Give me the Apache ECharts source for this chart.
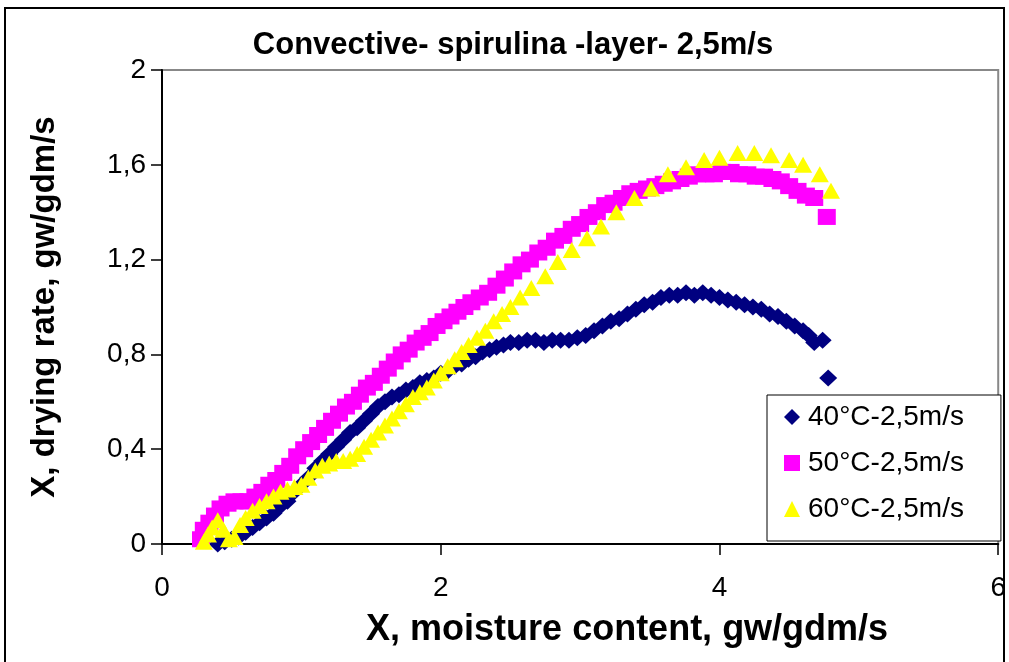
<!DOCTYPE html>
<html>
<head>
<meta charset="utf-8">
<script src="https://cdn.jsdelivr.net/npm/echarts@6/dist/echarts.min.js"></script>
<style>
  html, body { margin: 0; padding: 0; background: #fff; }
  #main { width: 1009px; height: 662px; }
</style>
</head>
<body>
<div id="main"></div>
<script>
// series names
var seriesNames = ['40°C-2,5m/s', '50°C-2,5m/s', '60°C-2,5m/s'];

// [moisture content, drying rate]
var data40 = [
  [0.40,0.00],[0.45,0.01],[0.50,0.02],[0.55,0.03],[0.60,0.05],[0.65,0.07],[0.70,0.09],[0.75,0.11],
  [0.80,0.13],[0.85,0.16],[0.90,0.18],[0.95,0.22],[1.00,0.25],[1.05,0.28],[1.10,0.32],[1.15,0.35],
  [1.20,0.38],[1.25,0.41],[1.30,0.44],[1.35,0.47],[1.40,0.49],[1.45,0.52],[1.50,0.55],[1.55,0.58],
  [1.60,0.60],[1.65,0.62],[1.70,0.63],[1.75,0.65],[1.80,0.66],[1.85,0.68],[1.90,0.69],[1.95,0.70],
  [2.00,0.72],[2.05,0.73],[2.10,0.75],[2.15,0.76],[2.20,0.78],[2.25,0.79],[2.30,0.81],[2.35,0.82],
  [2.40,0.83],[2.45,0.84],[2.50,0.85],[2.56,0.85],[2.62,0.86],[2.68,0.86],[2.74,0.85],[2.80,0.86],
  [2.86,0.86],[2.92,0.86],[2.98,0.87],[3.04,0.88],[3.10,0.90],[3.16,0.92],[3.22,0.94],[3.28,0.95],
  [3.34,0.97],[3.40,0.99],[3.46,1.01],[3.52,1.02],[3.58,1.04],[3.64,1.05],[3.70,1.05],[3.76,1.06],
  [3.82,1.05],[3.88,1.06],[3.94,1.05],[4.00,1.04],[4.06,1.03],[4.12,1.02],[4.18,1.01],[4.24,1.00],
  [4.30,0.99],[4.36,0.97],[4.42,0.96],[4.48,0.94],[4.54,0.92],[4.60,0.90],[4.64,0.88],[4.68,0.85],
  [4.74,0.86],[4.78,0.70]
];

var data50 = [
  [0.28,0.02],[0.30,0.06],[0.34,0.09],[0.38,0.12],[0.42,0.15],[0.47,0.17],[0.52,0.18],[0.57,0.18],
  [0.62,0.18],[0.67,0.20],[0.72,0.22],[0.77,0.25],[0.82,0.27],[0.87,0.30],[0.92,0.33],[0.97,0.37],
  [1.02,0.40],[1.07,0.43],[1.12,0.46],[1.17,0.49],[1.22,0.52],[1.27,0.55],[1.32,0.58],[1.37,0.60],
  [1.42,0.63],[1.47,0.66],[1.52,0.68],[1.57,0.71],[1.62,0.74],[1.67,0.77],[1.72,0.80],[1.77,0.82],
  [1.82,0.85],[1.87,0.87],[1.92,0.89],[1.97,0.92],[2.02,0.94],[2.07,0.96],[2.12,0.98],[2.17,1.00],
  [2.22,1.02],[2.28,1.04],[2.34,1.06],[2.40,1.09],[2.46,1.12],[2.52,1.15],[2.58,1.18],[2.64,1.20],
  [2.70,1.23],[2.76,1.25],[2.82,1.28],[2.88,1.30],[2.94,1.33],[3.00,1.35],[3.06,1.38],[3.12,1.40],
  [3.18,1.43],[3.24,1.44],[3.30,1.46],[3.36,1.48],[3.42,1.49],[3.48,1.50],[3.54,1.51],[3.60,1.52],
  [3.66,1.53],[3.72,1.54],[3.78,1.55],[3.84,1.56],[3.90,1.56],[3.96,1.56],[4.02,1.57],[4.08,1.57],
  [4.14,1.56],[4.20,1.56],[4.26,1.55],[4.32,1.55],[4.38,1.54],[4.44,1.53],[4.50,1.51],[4.56,1.49],
  [4.62,1.47],[4.68,1.46],[4.77,1.38]
];

var data60 = [
  [0.30,0.01],[0.33,0.04],[0.36,0.07],[0.40,0.10],[0.44,0.06],[0.48,0.02],[0.52,0.03],[0.56,0.08],
  [0.60,0.11],[0.65,0.14],[0.70,0.16],[0.75,0.18],[0.80,0.20],[0.85,0.22],[0.90,0.23],[0.95,0.24],
  [1.00,0.25],[1.05,0.28],[1.10,0.31],[1.15,0.33],[1.20,0.34],[1.25,0.35],[1.30,0.35],[1.35,0.36],
  [1.40,0.38],[1.45,0.41],[1.50,0.44],[1.55,0.47],[1.60,0.50],[1.65,0.53],[1.70,0.56],[1.75,0.59],
  [1.80,0.62],[1.85,0.64],[1.90,0.66],[1.95,0.69],[2.00,0.72],[2.05,0.75],[2.10,0.78],[2.15,0.81],
  [2.20,0.84],[2.26,0.87],[2.32,0.90],[2.38,0.94],[2.44,0.97],[2.50,1.00],[2.57,1.04],[2.65,1.08],
  [2.75,1.13],[2.84,1.19],[2.94,1.24],[3.05,1.29],[3.15,1.34],[3.26,1.40],[3.39,1.46],[3.51,1.50],
  [3.63,1.56],[3.76,1.59],[3.89,1.62],[4.00,1.63],[4.13,1.65],[4.25,1.65],[4.37,1.64],[4.50,1.62],
  [4.60,1.60],[4.72,1.56],[4.80,1.49]
];

var font = '"Liberation Sans", Arial, sans-serif';

var chart = echarts.init(document.getElementById('main'));

var option = {
  backgroundColor: '#ffffff',
  animation: false,
  title: {
    text: 'Convective- spirulina -layer- 2,5m/s',
    left: 508,
    textAlign: 'center',
    top: 25,
    textStyle: { fontFamily: font, fontSize: 31, fontWeight: 'bold', color: '#000' }
  },
  legend: {
    orient: 'vertical',
    left: 767,
    top: 395,
    padding: [8, 37, 18, 17],
    itemGap: 18,
    itemWidth: 16,
    itemHeight: 16,
    backgroundColor: '#fff',
    borderColor: '#000',
    borderWidth: 1,
    data: [
      { name: seriesNames[0], icon: 'diamond' },
      { name: seriesNames[1], icon: 'rect' },
      { name: seriesNames[2], icon: 'triangle' }
    ],
    textStyle: { fontFamily: font, fontSize: 28, lineHeight: 28, color: '#000', padding: [0, 0, 0, 3] }
  },
  grid: {
    left: 162,
    right: 10,
    top: 70,
    bottom: 118,
    show: true,
    backgroundColor: '#fff',
    borderColor: '#888',
    borderWidth: 2
  },
  xAxis: {
    type: 'value',
    min: 0,
    max: 6,
    interval: 2,
    name: 'X, moisture content, gw/gdm/s',
    nameLocation: 'middle',
    nameGap: 68,
    nameTextStyle: { fontFamily: font, fontSize: 36, fontWeight: 'bold', color: '#000', padding: [0, 0, 0, 94] },
    axisLine: { show: true, lineStyle: { color: '#000', width: 2 } },
    axisTick: { show: true, inside: false, length: 11, lineStyle: { color: '#000', width: 1.5 } },
    axisLabel: { margin: 30, fontFamily: font, fontSize: 28, color: '#000' },
    splitLine: { show: false }
  },
  yAxis: {
    type: 'value',
    min: 0,
    max: 2,
    interval: 0.4,
    name: 'X, drying rate, gw/gdm/s',
    nameLocation: 'middle',
    nameGap: 101,
    nameRotate: 90,
    nameTextStyle: { fontFamily: font, fontSize: 33, fontWeight: 'bold', color: '#000' },
    axisLine: { show: true, lineStyle: { color: '#000', width: 2 } },
    axisTick: { show: true, inside: false, length: 11, lineStyle: { color: '#000', width: 1.5 } },
    axisLabel: {
      margin: 16,
      fontFamily: font,
      fontSize: 28,
      color: '#000',
      formatter: function (v) { return String(+v.toFixed(1)).replace('.', ','); }
    },
    splitLine: { show: false }
  },
  series: [
    {
      name: seriesNames[0],
      type: 'scatter',
      symbol: 'diamond',
      symbolSize: [18, 17],
      itemStyle: { color: '#000080', opacity: 1 },
      data: data40
    },
    {
      name: seriesNames[1],
      type: 'scatter',
      symbol: 'rect',
      symbolSize: [18, 16],
      itemStyle: { color: '#ff00ff', opacity: 1 },
      data: data50
    },
    {
      name: seriesNames[2],
      type: 'scatter',
      symbol: 'triangle',
      symbolSize: [18, 16],
      itemStyle: { color: '#ffff00', opacity: 1 },
      data: data60
    }
  ],
  graphic: [
    {
      type: 'rect',
      z: -1,
      shape: { x: 5, y: 8, width: 999, height: 670 },
      style: { fill: null, stroke: '#000', lineWidth: 2 }
    }
  ]
};

chart.setOption(option);
</script>
</body>
</html>
